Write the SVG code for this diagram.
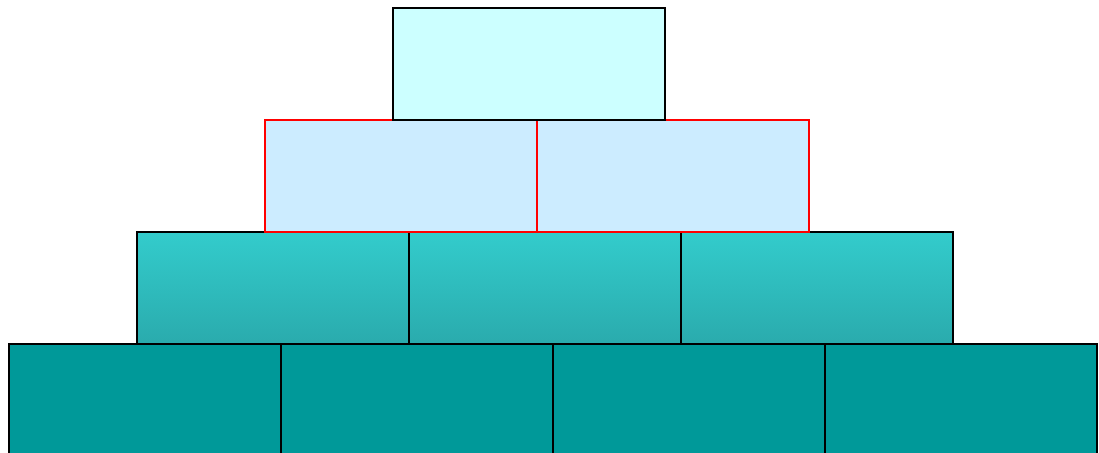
<svg xmlns="http://www.w3.org/2000/svg" width="1099" height="453" viewBox="0 0 1099 453">
<defs>
<linearGradient id="g3" x1="0" y1="0" x2="0" y2="1">
<stop offset="0" stop-color="#33CCCC"/>
<stop offset="1" stop-color="#2AABAD"/>
</linearGradient>
<style>
.r4{fill:#009999;stroke:#000;stroke-width:2}
.r3{fill:url(#g3);stroke:#000;stroke-width:2}
.r2{fill:#CCECFF;stroke:#FF0000;stroke-width:2}
.r1{fill:#CCFFFF;stroke:#000;stroke-width:2}
</style>
</defs>
<rect width="1099" height="453" fill="#fff"/>
<g id="row4">
<g id="n4a"><rect class="r4" x="9" y="344" width="272" height="120"/></g>
<g id="n4b"><rect class="r4" x="281" y="344" width="272" height="120"/></g>
<g id="n4c"><rect class="r4" x="553" y="344" width="272" height="120"/></g>
<g id="n4d"><rect class="r4" x="825" y="344" width="272" height="120"/></g>
</g>
<g id="row3">
<g id="n3a"><rect class="r3" x="137" y="232" width="272" height="112"/></g>
<g id="n3b"><rect class="r3" x="409" y="232" width="272" height="112"/></g>
<g id="n3c"><rect class="r3" x="681" y="232" width="272" height="112"/></g>
</g>
<g id="row2">
<g id="n2a"><rect class="r2" x="265" y="120" width="272" height="112"/></g>
<g id="n2b"><rect class="r2" x="537" y="120" width="272" height="112"/></g>
</g>
<g id="row1">
<g id="n1"><rect class="r1" x="393" y="8" width="272" height="112"/></g>
</g>
<g id="connectors"/>
</svg>
